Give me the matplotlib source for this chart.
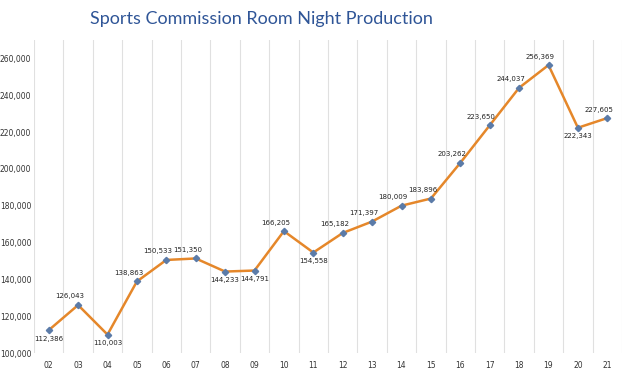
"""Sports Commission room night production, fiscal years 02-21."""

import matplotlib.pyplot as plt
import numpy as np
from matplotlib.ticker import FuncFormatter, MultipleLocator

YEARS = ["02", "03", "04", "05", "06", "07", "08", "09", "10", "11",
         "12", "13", "14", "15", "16", "17", "18", "19", "20", "21"]
ROOM_NIGHTS = [112386, 126043, 110003, 138863, 150533, 151350, 144233, 144791,
               166205, 154558, 165182, 171397, 180009, 183896, 203262, 223650,
               244037, 256369, 222343, 227605]
# which labels sit under their point
BELOW = {"02", "04", "08", "09", "11", "20"}

LINE_COLOR = "#E5872A"
MARKER_COLOR = "#5B7BA8"
TITLE_COLOR = "#2F5597"
GRID_COLOR = "#E0E0E0"

fig = plt.figure(figsize=(6.24, 3.82), dpi=100)
ax = fig.add_axes([34 / 624, 1 - 353 / 382, 588 / 624, 313 / 382])

x = np.arange(len(YEARS))
ax.plot(x, ROOM_NIGHTS, color=LINE_COLOR, linewidth=1.8, zorder=3,
        marker="D", markersize=3.2, markerfacecolor=MARKER_COLOR,
        markeredgecolor=MARKER_COLOR)

for xi, year, value in zip(x, YEARS, ROOM_NIGHTS):
    if year in BELOW:
        offset, va = (0, -4), "top"
    else:
        offset, va = (-6, 4), "bottom"
    ax.annotate(f"{value:,}", (xi, value), xytext=offset,
                textcoords="offset points", ha="center", va=va,
                fontsize=5, color="#222222", family="DejaVu Sans")

ax.set_xlim(-0.5, len(YEARS) - 0.5)
ax.set_ylim(100000, 270000)
ax.set_xticks(x)
ax.set_xticklabels(YEARS)
ax.yaxis.set_major_locator(MultipleLocator(20000))
ax.yaxis.set_major_formatter(FuncFormatter(lambda v, _: f"{int(v):,}"))

for b in np.arange(-0.5, len(YEARS), 1.0):
    ax.axvline(b, color=GRID_COLOR, linewidth=0.8, zorder=1)

for side in ("top", "right", "left", "bottom"):
    ax.spines[side].set_visible(False)
ax.tick_params(axis="both", length=0, labelsize=5.5, labelcolor="#333333")
ax.tick_params(axis="x", pad=6)
ax.tick_params(axis="y", pad=2)

fig.text(261 / 624, 1 - 19 / 382, "Sports Commission Room Night Production",
         ha="center", va="center", fontsize=13, color=TITLE_COLOR,
         family="Lato")

fig.savefig("out.png", dpi=100)
